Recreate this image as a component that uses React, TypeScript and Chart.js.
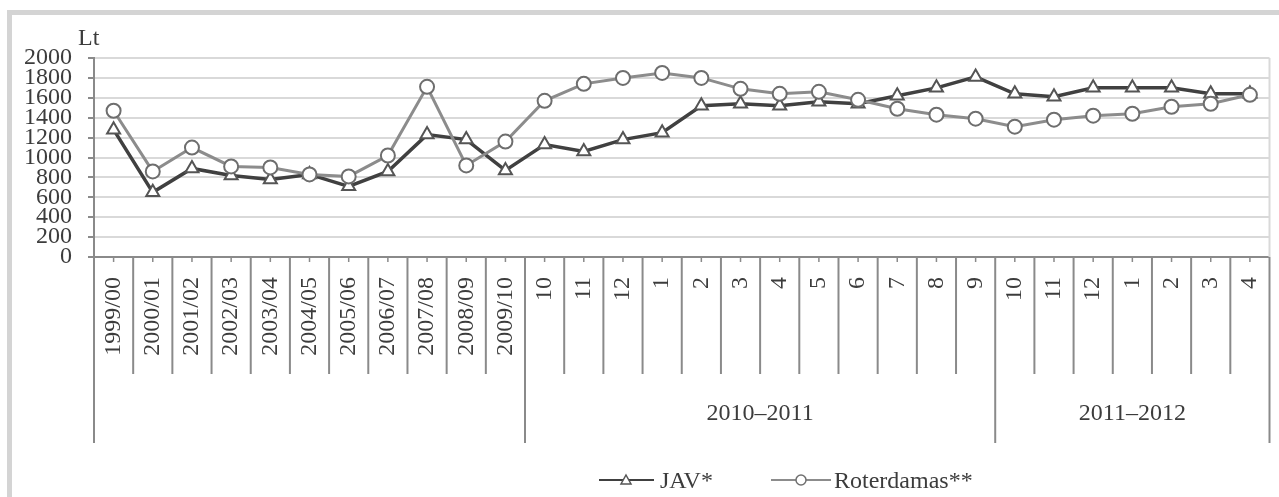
import React, { useEffect, useRef } from 'react';
import { Chart, registerables } from 'chart.js';

Chart.register(...registerables);

const categories = [
  '1999/00', '2000/01', '2001/02', '2002/03', '2003/04', '2004/05', '2005/06',
  '2006/07', '2007/08', '2008/09', '2009/10',
  '10', '11', '12', '1', '2', '3', '4', '5', '6', '7', '8', '9',
  '10', '11', '12', '1', '2', '3', '4',
];

const groupLabels = ['', '2010–2011', '2011–2012'];
const groupStarts = [0, 11, 23];
const groupEnds = [11, 23, 30];

const javValues = [
  1280, 650, 890, 820, 780, 830, 710, 860, 1230, 1180, 870,
  1130, 1060, 1180, 1250, 1520, 1540, 1520, 1560, 1540, 1620, 1700, 1810,
  1640, 1610, 1700, 1700, 1700, 1640, 1640,
];

const roterdamasValues = [
  1470, 860, 1100, 910, 900, 830, 810, 1020, 1710, 920, 1160,
  1570, 1740, 1800, 1850, 1800, 1690, 1640, 1660, 1580, 1490, 1430, 1390,
  1310, 1380, 1420, 1440, 1510, 1540, 1630,
];

const seriesNames = ['JAV*', 'Roterdamas**'];
const yMin = 0;
const yMax = 2000;
const yStep = 200;
const yUnit = 'Lt';

const FONT = 'Liberation Serif';
const TEXT = '#3c3c3c';
const AXIS = '#8a8a8a';
const GRID = '#d9d9d9';
const JAV_LINE = '#404040';
const ROT_LINE = '#8c8c8c';

const decorPlugin = {
  id: 'decor',
  beforeDraw(chart: any) {
    const ctx = chart.ctx;
    ctx.save();
    ctx.strokeStyle = '#d4d4d4';
    ctx.lineWidth = 5;
    ctx.strokeRect(9.5, 12.5, 1500, 800);
    ctx.restore();
  },
  afterDraw(chart: any) {
    const ctx = chart.ctx;
    const area = chart.chartArea;
    const xs = chart.scales.x;
    const n = categories.length;
    const step = xs.getPixelForValue(1) - xs.getPixelForValue(0);
    const axisY = area.bottom;
    const sepEnd = 374;
    const groupEnd = 443;
    ctx.save();

    // unit label
    ctx.fillStyle = TEXT;
    ctx.font = `24px "${FONT}"`;
    ctx.textAlign = 'left';
    ctx.textBaseline = 'alphabetic';
    ctx.fillText(yUnit, 78, 45);

    // right border inside plot
    ctx.strokeStyle = GRID;
    ctx.lineWidth = 2;
    ctx.beginPath();
    ctx.moveTo(area.right, area.top);
    ctx.lineTo(area.right, axisY);
    ctx.stroke();

    // center tick marks
    ctx.strokeStyle = AXIS;
    ctx.lineWidth = 1.5;
    for (let i = 0; i < n; i++) {
      const x = xs.getPixelForValue(i);
      ctx.beginPath();
      ctx.moveTo(x, axisY);
      ctx.lineTo(x, axisY + 5);
      ctx.stroke();
    }

    // separators
    ctx.lineWidth = 2;
    const groupBounds = new Set<number>([...groupStarts, ...groupEnds]);
    for (let b = 0; b <= n; b++) {
      const x = xs.getPixelForValue(0) - step / 2 + b * step;
      const end = groupBounds.has(b) ? groupEnd : sepEnd;
      ctx.beginPath();
      ctx.moveTo(x, axisY);
      ctx.lineTo(x, end);
      ctx.stroke();
    }

    // group labels
    ctx.fillStyle = TEXT;
    ctx.font = `24px "${FONT}"`;
    ctx.textAlign = 'center';
    ctx.textBaseline = 'alphabetic';
    for (let g = 0; g < groupLabels.length; g++) {
      if (!groupLabels[g]) continue;
      const x0 = xs.getPixelForValue(0) - step / 2 + groupStarts[g] * step;
      const x1 = xs.getPixelForValue(0) - step / 2 + groupEnds[g] * step;
      ctx.fillText(groupLabels[g], (x0 + x1) / 2, 420);
    }

    // legend
    const ly = 480;
    ctx.textAlign = 'left';
    ctx.textBaseline = 'alphabetic';
    // JAV
    ctx.strokeStyle = JAV_LINE;
    ctx.lineWidth = 2;
    ctx.beginPath();
    ctx.moveTo(599, ly);
    ctx.lineTo(654, ly);
    ctx.stroke();
    ctx.fillStyle = '#ffffff';
    ctx.strokeStyle = '#555555';
    ctx.lineWidth = 1.5;
    ctx.beginPath();
    ctx.moveTo(626, ly - 5);
    ctx.lineTo(631, ly + 4);
    ctx.lineTo(621, ly + 4);
    ctx.closePath();
    ctx.fill();
    ctx.stroke();
    ctx.fillStyle = TEXT;
    ctx.fillText(seriesNames[0], 660, 488);
    // Roterdamas
    ctx.strokeStyle = ROT_LINE;
    ctx.lineWidth = 2;
    ctx.beginPath();
    ctx.moveTo(771, ly);
    ctx.lineTo(831, ly);
    ctx.stroke();
    ctx.fillStyle = '#ffffff';
    ctx.strokeStyle = '#707070';
    ctx.lineWidth = 1.5;
    ctx.beginPath();
    ctx.arc(801, ly, 5, 0, Math.PI * 2);
    ctx.fill();
    ctx.stroke();
    ctx.fillStyle = TEXT;
    ctx.fillText(seriesNames[1], 834, 488);

    ctx.restore();
  },
};

export default function App() {
  const canvasRef = useRef<HTMLCanvasElement | null>(null);

  useEffect(() => {
    document.body.style.margin = '0';
    const canvas = canvasRef.current;
    if (!canvas) return;
    const chart = new Chart(canvas, {
      type: 'line',
      data: {
        labels: categories,
        datasets: [
          {
            label: seriesNames[0],
            data: javValues,
            borderColor: JAV_LINE,
            borderWidth: 3.5,
            pointStyle: 'triangle',
            pointRadius: 7.5,
            pointBackgroundColor: '#ffffff',
            pointBorderColor: '#555555',
            pointBorderWidth: 2,
            tension: 0,
            order: 1,
          },
          {
            label: seriesNames[1],
            data: roterdamasValues,
            borderColor: ROT_LINE,
            borderWidth: 3,
            pointStyle: 'circle',
            pointRadius: 7,
            pointBackgroundColor: '#ffffff',
            pointBorderColor: '#6e6e6e',
            pointBorderWidth: 2,
            tension: 0,
            order: 0,
          },
        ],
      },
      options: {
        responsive: false,
        animation: false,
        devicePixelRatio: 1,
        layout: { padding: { top: 58, right: 2, bottom: 54, left: 0 } },
        plugins: {
          legend: { display: false },
          tooltip: { enabled: false },
          title: { display: false },
        },
        scales: {
          x: {
            type: 'category',
            offset: true,
            grid: { display: true, drawOnChartArea: false, drawTicks: false, color: AXIS },
            border: { display: true, color: AXIS, width: 2 },
            ticks: {
              autoSkip: false,
              minRotation: 90,
              maxRotation: 90,
              padding: 20,
              color: TEXT,
              font: { family: FONT, size: 24, lineHeight: 1 },
            },
            afterFit: (scale: any) => {
              scale.height = 186;
              scale.paddingLeft = 0;
              scale.paddingRight = 0;
            },
          },
          y: {
            min: yMin,
            max: yMax,
            grid: { color: GRID, lineWidth: 2, tickColor: AXIS, tickLength: 6, drawTicks: true },
            border: { display: true, color: AXIS, width: 2 },
            ticks: {
              stepSize: yStep,
              autoSkip: false,
              padding: 16,
              color: TEXT,
              font: { family: FONT, size: 24, lineHeight: 1 },
              callback: (value: any) => String(value),
            },
            afterFit: (scale: any) => {
              scale.width = 94;
              scale.paddingTop = 0;
              scale.paddingBottom = 0;
            },
          },
        },
      },
      plugins: [decorPlugin],
    });
    return () => chart.destroy();
  }, []);

  return (
    <div style={{ width: 1279, height: 497, position: 'relative', background: '#ffffff' }}>
      <canvas ref={canvasRef} width={1279} height={497} style={{ display: 'block' }} />
    </div>
  );
}
